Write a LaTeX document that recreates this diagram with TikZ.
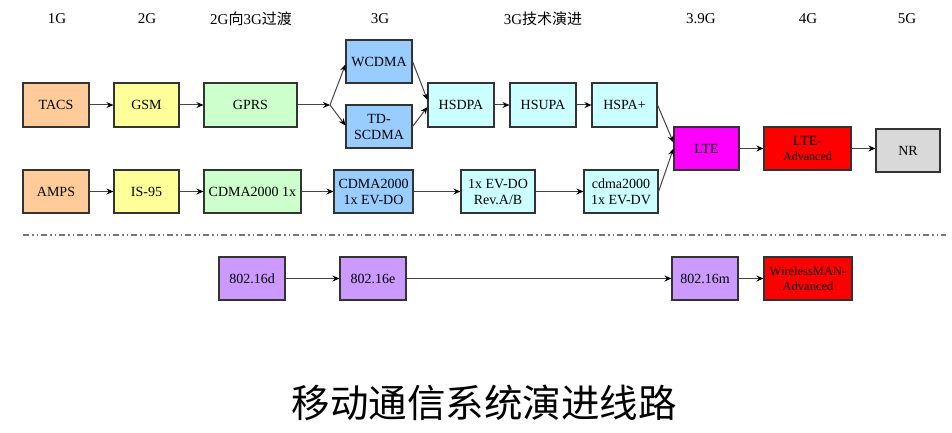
\documentclass[tikz,border=0pt]{standalone}
\usepackage{fontspec}
\setmainfont{Liberation Serif}
\newfontfamily\cjk{Noto Sans CJK SC}
\usetikzlibrary{arrows.meta,calc}
\definecolor{cOrange}{HTML}{FFCC99}
\definecolor{cYellow}{HTML}{FFFF99}
\definecolor{cGreen}{HTML}{CCFFCC}
\definecolor{cBlue}{HTML}{99CCFF}
\definecolor{cCyan}{HTML}{CCFFFF}
\definecolor{cMag}{HTML}{FF00FF}
\definecolor{cRed}{HTML}{FF0000}
\definecolor{cGray}{HTML}{D9D9D9}
\definecolor{cPurple}{HTML}{CC99FF}
\definecolor{cBorder}{HTML}{333333}
\definecolor{cLine}{HTML}{444444}
\definecolor{cSep}{HTML}{777777}
\begin{document}
\begin{tikzpicture}[x=1pt,y=-1pt,
  box/.style={draw=cBorder,line width=1.1pt,inner sep=0pt,align=center,
    font=\fontsize{14}{16}\selectfont},
  hdr/.style={font=\fontsize{15}{17}\selectfont},
  conn/.style={draw=cLine,line width=1pt,-{Stealth[length=7pt,width=6pt,color=black]}},
  plain/.style={draw=cLine,line width=1pt}]
\useasboundingbox (0,0) rectangle (952,433);
% headers
\node[hdr] (h1) at (57,19) {1G};
\node[hdr] (h2) at (147,19) {2G};
\node[hdr] (h3) at (251,19) {2G{\cjk 向}3G{\cjk 过渡}};
\node[hdr] (h4) at (380,19) {3G};
\node[hdr] (h5) at (543,19) {3G{\cjk 技术演进}};
\node[hdr] (h6) at (701,19) {3.9G};
\node[hdr] (h7) at (808,19) {4G};
\node[hdr] (h8) at (907,19) {5G};
% row 1
\node[box,fill=cOrange,minimum width=66pt,minimum height=44pt] (tacs) at (56,105) {TACS};
\node[box,fill=cYellow,minimum width=65pt,minimum height=44pt] (gsm) at (146.5,105) {GSM};
\node[box,fill=cGreen,minimum width=93pt,minimum height=44pt] (gprs) at (250.5,105) {GPRS};
\node[box,fill=cBlue,minimum width=66pt,minimum height=43pt] (wcdma) at (379,61.5) {WCDMA};
\node[box,fill=cBlue,minimum width=66pt,minimum height=43pt] (td) at (379,126.5) {TD-\\SCDMA};
\node[box,fill=cCyan,minimum width=66pt,minimum height=44pt] (hsdpa) at (461,105) {HSDPA};
\node[box,fill=cCyan,minimum width=66pt,minimum height=44pt] (hsupa) at (543,105) {HSUPA};
\node[box,fill=cCyan,minimum width=65pt,minimum height=44pt] (hspa) at (624.5,105) {HSPA+};
\node[box,fill=cMag,minimum width=65pt,minimum height=43pt] (lte) at (706.5,148.5) {LTE};
\node[box,fill=cRed,minimum width=87pt,minimum height=43pt] (ltea) at (807.5,148.5) {LTE-\\[-1pt]{\fontsize{12}{14}\selectfont Advanced}};
\node[box,fill=cGray,minimum width=64pt,minimum height=43pt] (nr) at (908,150.5) {NR};
% row 2
\node[box,fill=cOrange,minimum width=66pt,minimum height=43pt] (amps) at (56,191.5) {AMPS};
\node[box,fill=cYellow,minimum width=65pt,minimum height=43pt] (is95) at (146.5,191.5) {IS-95};
\node[box,fill=cGreen,minimum width=97pt,minimum height=43pt] (c1x) at (252.5,191.5) {CDMA2000 1x};
\node[box,fill=cBlue,minimum width=79pt,minimum height=43pt] (evdo) at (373.5,191.5) {CDMA2000\\1x EV-DO};
\node[box,fill=cCyan,minimum width=74pt,minimum height=43pt] (rev) at (498,191.5) {1x EV-DO\\Rev.A/B};
\node[box,fill=cCyan,minimum width=74pt,minimum height=43pt] (evdv) at (621,191.5) {cdma2000\\1x EV-DV};
% separator
\coordinate (sepL) at (23,235);
\coordinate (sepR) at (946,235);
\draw[cSep,line width=1.5pt,dash pattern=on 6pt off 3pt on 1.5pt off 3pt on 1.5pt off 3pt] (sepL) -- (sepR);
% row 3
\node[box,fill=cPurple,minimum width=66pt,minimum height=43pt] (d) at (252,278.5) {802.16d};
\node[box,fill=cPurple,minimum width=66pt,minimum height=43pt] (e) at (373,278.5) {802.16e};
\node[box,fill=cPurple,minimum width=66pt,minimum height=43pt] (m) at (705,278.5) {802.16m};
\node[box,fill=cRed,minimum width=88pt,minimum height=43pt,font=\fontsize{12.5}{14.5}\selectfont] (wman) at (808,278.5) {WirelessMAN-\\Advanced};
% title
\node[font=\cjk\fontsize{38.5}{41}\selectfont] (title) at (484,403) {移动通信系统演进线路};
% connectors row 1
\draw[conn] (tacs) -- (gsm);
\draw[conn] (gsm) -- (gprs);
\coordinate (split) at (330,105);
\draw[conn] (gprs) -- (split);
\draw[conn] (split) -- ([yshift=-3pt]wcdma.west);
\draw[conn] (split) -- ([yshift=1pt]td.west);
\draw[conn] (wcdma.east) -- ([yshift=5pt]hsdpa.west);
\draw[conn] (td.east) -- ([yshift=-2pt]hsdpa.west);
\draw[conn] (hsdpa) -- (hsupa);
\draw[conn] (hsupa) -- (hspa);
\draw[conn] (hspa.east) -- ([yshift=6pt]lte.west);
\draw[conn] (evdv.east) -- ([yshift=0pt]lte.west);
\draw[conn] (lte) -- (ltea);
\draw[conn] (ltea.east) -- (nr.west |- ltea.east);
% row 2
\draw[conn] (amps) -- (is95);
\draw[conn] (is95) -- (c1x);
\draw[conn] (c1x) -- (evdo);
\draw[conn] (evdo) -- (rev);
\draw[conn] (rev) -- (evdv);
% row 3
\draw[conn] (d) -- (e);
\draw[conn] (e) -- (m);
\draw[conn] (m) -- (wman);
\end{tikzpicture}
\end{document}
